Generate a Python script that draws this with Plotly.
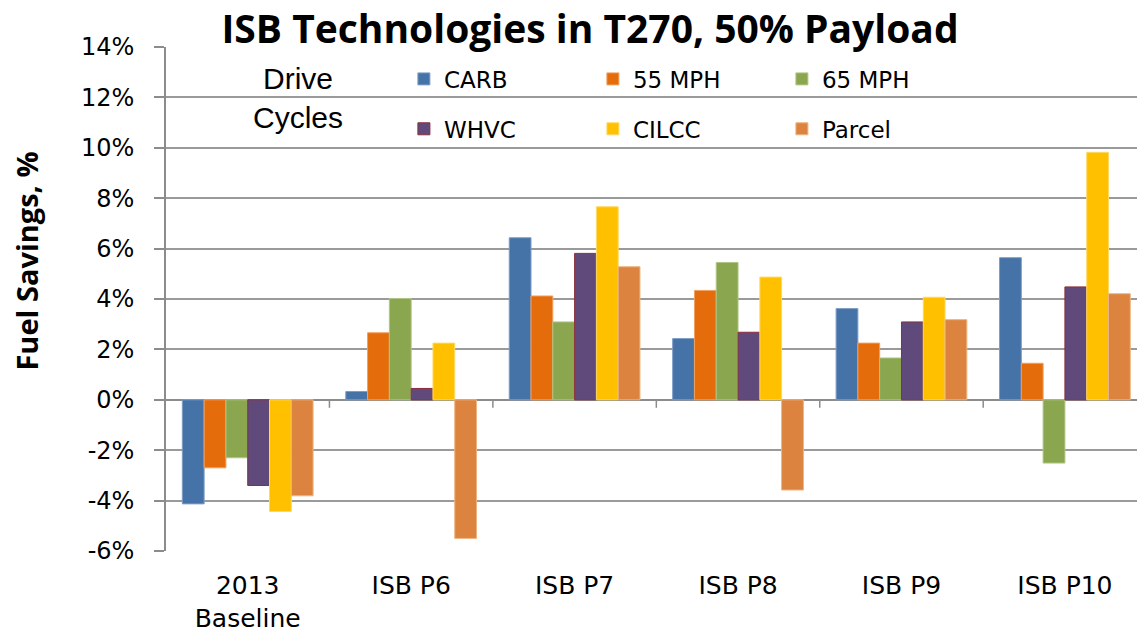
import plotly.graph_objects as go

categories = ["2013<br>Baseline", "ISB P6", "ISB P7", "ISB P8", "ISB P9", "ISB P10"]
series_names = ["CARB", "55 MPH", "65 MPH", "WHVC", "CILCC", "Parcel"]
carb = [-4.13, 0.33, 6.43, 2.43, 3.62, 5.64]
mph55 = [-2.70, 2.66, 4.12, 4.34, 2.25, 1.45]
mph65 = [-2.30, 4.02, 3.09, 5.45, 1.66, -2.51]
whvc = [-3.40, 0.45, 5.81, 2.68, 3.09, 4.48]
cilcc = [-4.43, 2.25, 7.66, 4.87, 4.07, 9.82]
parcel = [-3.81, -5.50, 5.28, -3.58, 3.18, 4.21]
y_ticks = [-6, -4, -2, 0, 2, 4, 6, 8, 10, 12, 14]
y_tick_labels = [f"{v}%" for v in y_ticks]

series_values = [carb, mph55, mph65, whvc, cilcc, parcel]
colors = ["#4573A7", "#E46C0A", "#8AA64E", "#604A7B", "#FFC000", "#DC843F"]
edges = ["#7E9DC6", "#F0A060", "#B0C585", "#8B2F3A", "#FFD966", "#EDB482"]

# the page body adds an 8 px offset; the figure is sized to compensate
W, H = 1137, 625

fig = go.Figure()
for i, (name, vals) in enumerate(zip(series_names, series_values)):
    fig.add_trace(go.Bar(
        x=categories, y=vals, name=name,
        marker=dict(color=colors[i], line=dict(color=edges[i], width=1)),
        legend="legend" if i < 3 else "legend2",
    ))

# small tick marks at category boundaries along the zero line
for k in range(5):
    fig.add_shape(type="line", xref="x", yref="y", x0=k + 0.5, x1=k + 0.5,
                  ysizemode="pixel", yanchor=0, y0=0, y1=-8,
                  line=dict(color="#8C8C8C", width=1.5))

legend_font = dict(family="DejaVu Sans", size=23, color="#000000")
fig.update_layout(
    width=W, height=H,
    margin=dict(l=158, r=0, t=39, b=73),
    paper_bgcolor="white", plot_bgcolor="white",
    barmode="group", bargap=0.2, bargroupgap=0,
    title=dict(text="ISB Technologies in T270, 50% Payload",
               font=dict(family="Open Sans", size=39, color="#000000", weight="bold"),
               x=582 / W, xanchor="center", y=1 - 21 / H, yanchor="middle"),
    xaxis=dict(range=[-0.5, 5.49], showgrid=False, showline=False, ticks="",
               tickfont=dict(family="DejaVu Sans", size=25, color="#000000"),
               ticklabelstandoff=17),
    yaxis=dict(range=[-6, 14], tickmode="array", tickvals=y_ticks, ticktext=y_tick_labels,
               showgrid=True, gridcolor="#9A9A9A", gridwidth=1.8,
               zeroline=True, zerolinecolor="#8C8C8C", zerolinewidth=1.8,
               showline=True, linecolor="#8C8C8C", linewidth=1.6,
               ticks="outside", ticklen=10, tickcolor="#8C8C8C", tickwidth=1.6,
               ticklabelstandoff=15,
               tickfont=dict(family="DejaVu Sans", size=24, color="#000000")),
    legend=dict(orientation="h", x=0.243, y=(552 - 79) / 505, xanchor="left", yanchor="middle",
                entrywidth=144, entrywidthmode="pixels", font=legend_font,
                bgcolor="rgba(0,0,0,0)", itemclick=False),
    legend2=dict(orientation="h", x=0.243, y=(552 - 129) / 505, xanchor="left", yanchor="middle",
                 entrywidth=144, entrywidthmode="pixels", font=legend_font,
                 bgcolor="rgba(0,0,0,0)", itemclick=False),
    annotations=[
        dict(text="Drive<br>Cycles", xref="paper", yref="paper",
             x=(298 - 166) / 979, y=(552 - 98) / 505,
             xanchor="center", yanchor="middle", showarrow=False,
             font=dict(family="Liberation Sans", size=30, color="#000000")),
        dict(text="<b>Fuel Savings, %</b>", xref="paper", yref="paper",
             x=(27 - 166) / 979, y=(552 - 262) / 505, textangle=-90,
             xanchor="center", yanchor="middle", showarrow=False,
             font=dict(family="Open Sans", size=29, color="#000000")),
    ],
)

fig.write_html("out.html")
